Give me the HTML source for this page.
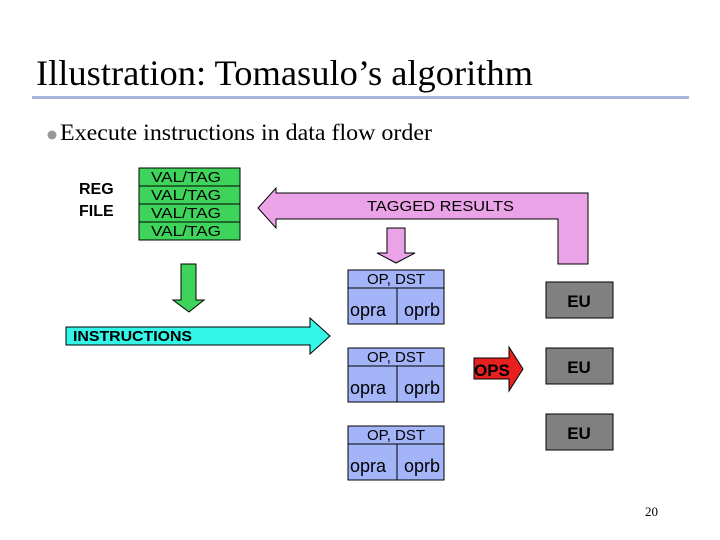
<!DOCTYPE html>
<html><head><style>
body{margin:0;background:#fff;}
</style></head><body>
<svg width="720" height="540" xmlns="http://www.w3.org/2000/svg" style="display:block">
<text x="36" y="85" font-family="Liberation Serif, serif" font-size="36" textLength="497" lengthAdjust="spacingAndGlyphs">Illustration: Tomasulo’s algorithm</text>
<rect x="32" y="96" width="657" height="3" fill="#a8b4dc"/>
<circle cx="52" cy="135" r="4.5" fill="#999"/>
<text x="60" y="140" font-family="Liberation Serif, serif" font-size="23" textLength="372" lengthAdjust="spacingAndGlyphs">Execute instructions in data flow order</text>
<g font-family="Liberation Sans, sans-serif" font-weight="bold" font-size="16">
<text x="79" y="194">REG</text><text x="79" y="216">FILE</text>
</g>
<g stroke="#000" stroke-width="1" fill="#3ed35a">
<rect x="139" y="168" width="101" height="18"/><rect x="139" y="186" width="101" height="18"/>
<rect x="139" y="204" width="101" height="18"/><rect x="139" y="222" width="101" height="18"/>
</g>
<g font-family="Liberation Sans, sans-serif" font-size="15" text-anchor="middle">
<text x="186" y="182" textLength="70" lengthAdjust="spacingAndGlyphs">VAL/TAG</text><text x="186" y="200" textLength="70" lengthAdjust="spacingAndGlyphs">VAL/TAG</text><text x="186" y="218" textLength="70" lengthAdjust="spacingAndGlyphs">VAL/TAG</text><text x="186" y="236" textLength="70" lengthAdjust="spacingAndGlyphs">VAL/TAG</text>
</g>
<path d="M258,208 L276,188 L276,193 L588,193 L588,264 L558,264 L558,219 L276,219 L276,228 Z" fill="#eba3e8" stroke="#000"/>
<text x="367" y="211" font-family="Liberation Sans, sans-serif" font-size="15" textLength="147" lengthAdjust="spacingAndGlyphs">TAGGED RESULTS</text>
<path d="M387,228 L405,228 L405,253 L415,253 L396,263 L377,253 L387,253 Z" fill="#eba3e8" stroke="#000"/>
<path d="M181,264 L196,264 L196,300 L204,300 L189,312 L173,300 L181,300 Z" fill="#3ed35a" stroke="#000"/>
<path d="M66,327 L310,327 L310,318 L330,336 L310,354 L310,345 L66,345 Z" fill="#33f5e8" stroke="#000"/>
<text x="73" y="341" font-family="Liberation Sans, sans-serif" font-weight="bold" font-size="15" textLength="119" lengthAdjust="spacingAndGlyphs">INSTRUCTIONS</text>
<g font-family="Liberation Sans, sans-serif" text-anchor="middle">
<g>
<rect x="348" y="270" width="96" height="54" fill="#a3b4f8" stroke="#000"/><line x1="348" y1="288" x2="444" y2="288" stroke="#000"/><line x1="397" y1="288" x2="397" y2="324" stroke="#000"/>
<text x="396" y="284" font-size="15">OP, DST</text><text x="368" y="316" font-size="18">opra</text><text x="422" y="316" font-size="18">oprb</text>
</g>
<g transform="translate(0,78)">
<rect x="348" y="270" width="96" height="54" fill="#a3b4f8" stroke="#000"/><line x1="348" y1="288" x2="444" y2="288" stroke="#000"/><line x1="397" y1="288" x2="397" y2="324" stroke="#000"/>
<text x="396" y="284" font-size="15">OP, DST</text><text x="368" y="316" font-size="18">opra</text><text x="422" y="316" font-size="18">oprb</text>
</g>
<g transform="translate(0,156)">
<rect x="348" y="270" width="96" height="54" fill="#a3b4f8" stroke="#000"/><line x1="348" y1="288" x2="444" y2="288" stroke="#000"/><line x1="397" y1="288" x2="397" y2="324" stroke="#000"/>
<text x="396" y="284" font-size="15">OP, DST</text><text x="368" y="316" font-size="18">opra</text><text x="422" y="316" font-size="18">oprb</text>
</g>
<g fill="#808080" stroke="#000">
<rect x="546" y="282" width="67" height="36"/><rect x="546" y="348" width="67" height="36"/><rect x="546" y="414" width="67" height="36"/>
</g>
<g font-size="17" font-weight="bold"><text x="579" y="307">EU</text><text x="579" y="373">EU</text><text x="579" y="439">EU</text></g>
</g>
<path d="M474,358 L509,358 L509,347 L523,369 L509,391 L509,379 L474,379 Z" fill="#e82020" stroke="#000"/>
<text x="474" y="376" font-family="Liberation Sans, sans-serif" font-weight="bold" font-size="17">OPS</text>
<text x="645" y="516" font-family="Liberation Serif, serif" font-size="13">20</text>
</svg>
</body></html>
